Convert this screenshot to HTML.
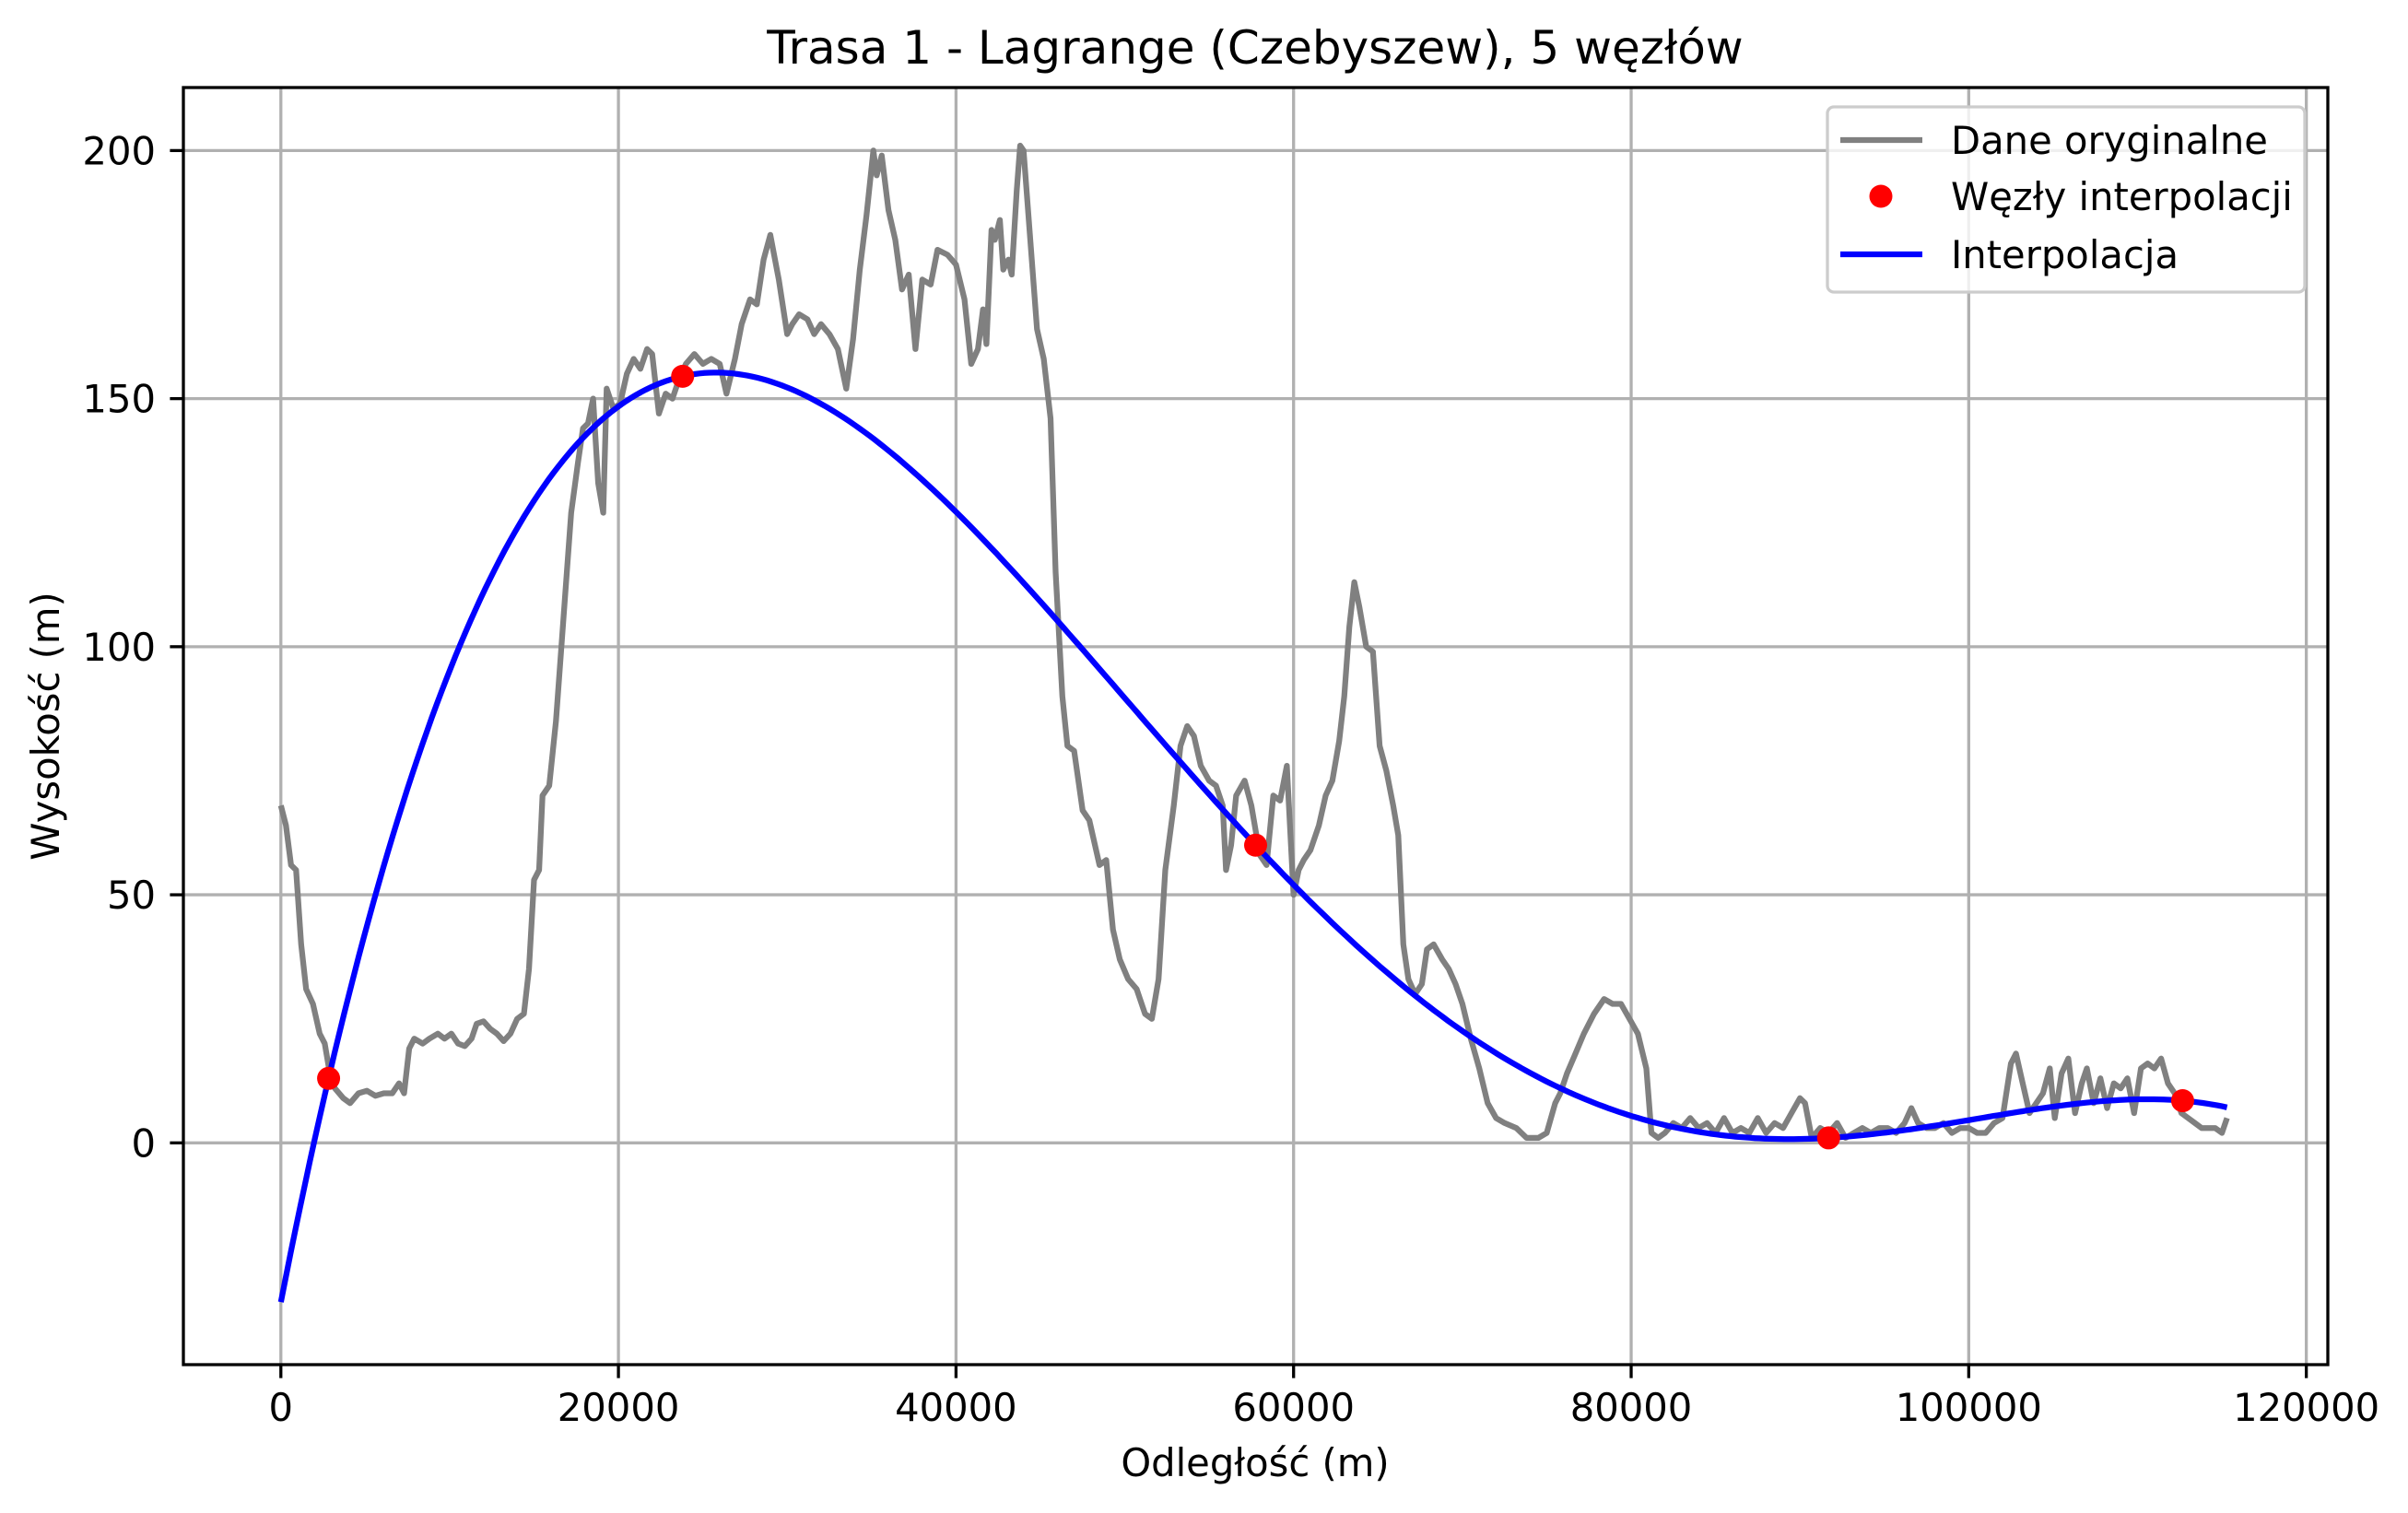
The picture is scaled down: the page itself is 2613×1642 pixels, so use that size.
<!DOCTYPE html>
<html><head><meta charset="utf-8"><style>
body{margin:0;background:#fff}
svg{display:block;font-family:"DejaVu Sans","Liberation Sans",sans-serif}
</style></head><body>
<svg id="chart" width="2613" height="1642" viewBox="0 0 2613 1642" xmlns="http://www.w3.org/2000/svg">
<rect width="2613" height="1642" fill="#fff"/>
<text x="1362" y="69" font-size="50" text-anchor="middle">Trasa 1 - Lagrange (Czebyszew), 5 węzłów</text>
<g id="grid"></g>
<g id="ticks"></g>
<g id="series"></g>
<rect x="199" y="95" width="2327" height="1386" fill="none" stroke="#000" stroke-width="3.3"/>
<text x="1362" y="1602" font-size="41.7" text-anchor="middle">Odległość (m)</text>
<text x="64" y="788" font-size="41.7" text-anchor="middle" transform="rotate(-90 64 788)">Wysokość (m)</text>
<g>
<rect x="1983" y="116" width="518" height="201" rx="7" fill="#fff" fill-opacity="0.8" stroke="#ccc" stroke-width="3.3"/>
<line x1="1997" y1="152" x2="2086" y2="152" stroke="#808080" stroke-width="6.25"/>
<text x="2117" y="167" font-size="41.7">Dane oryginalne</text>
<circle cx="2041" cy="213" r="12.5" fill="#ff0000"/>
<text x="2117" y="228" font-size="41.7">Węzły interpolacji</text>
<line x1="1997" y1="276" x2="2086" y2="276" stroke="#0000ff" stroke-width="6.25"/>
<text x="2117" y="291" font-size="41.7">Interpolacja</text>
</g>
</svg>
<script>
const profileKm=[0,0.3,0.6,0.9,1.2,1.5,1.9,2.3,2.6,2.9,3.2,3.7,4.1,4.6,5.1,5.6,6.1,6.6,7.0,7.3,7.6,7.9,8.4,8.8,9.3,9.7,10.1,10.5,10.9,11.3,11.6,12.0,12.4,12.8,13.2,13.6,14.0,14.4,14.7,15.0,15.3,15.5,15.9,16.3,16.6,16.9,17.2,17.6,17.9,18.2,18.5,18.8,19.1,19.3,19.7,20.1,20.5,20.9,21.3,21.7,22.0,22.4,22.8,23.2,23.6,24.0,24.5,25.0,25.5,26.0,26.4,26.9,27.3,27.8,28.2,28.6,29.0,29.5,30.0,30.3,30.7,31.2,31.6,32.0,32.5,33.0,33.5,33.9,34.3,34.7,35.1,35.3,35.6,36.0,36.4,36.8,37.2,37.6,38.0,38.5,38.9,39.5,40.0,40.5,40.9,41.3,41.6,41.8,42.1,42.3,42.6,42.8,43.1,43.3,43.6,43.8,44.0,44.4,44.8,45.2,45.6,45.9,46.3,46.6,47.0,47.5,47.9,48.5,48.9,49.3,49.7,50.2,50.7,51.2,51.6,52.0,52.4,52.9,53.3,53.7,54.1,54.5,55.0,55.4,55.8,56.0,56.3,56.6,57.1,57.5,58.0,58.4,58.8,59.2,59.6,60.0,60.3,60.6,61.0,61.5,61.9,62.3,62.7,63.0,63.3,63.6,63.9,64.3,64.7,65.1,65.5,65.9,66.2,66.5,66.8,67.2,67.6,67.9,68.3,68.8,69.2,69.6,70.0,70.5,71.0,71.5,72.0,72.5,73.2,73.8,74.5,75.0,75.5,75.8,76.2,76.7,77.2,77.8,78.4,78.9,79.4,79.9,80.4,80.9,81.2,81.6,82.0,82.5,83.0,83.5,84.0,84.5,85.0,85.5,86.0,86.5,87.0,87.5,88.0,88.5,89.0,89.5,90.0,90.3,90.7,91.2,91.7,92.2,92.7,93.2,93.7,94.2,94.7,95.2,95.7,96.2,96.6,97.0,97.5,98.0,98.5,99.0,99.5,100.0,100.5,101.0,101.5,102.0,102.5,102.8,103.2,103.6,104.0,104.4,104.8,105.1,105.5,105.9,106.3,106.7,107.0,107.4,107.8,108.2,108.6,109.0,109.4,109.8,110.2,110.6,111.0,111.4,111.8,112.2,112.6,113.0,113.4,113.8,114.2,114.6,115.0,115.3];
const profileElev=[68,64,56,55,40,31,28,22,20,14,11,9,8,10,10.5,9.5,10,10,12,10,19,21,20,21,22,21,22,20,19.5,21,24,24.5,23,22,20.5,22,25,26,35,53,55,70,72,85,99,113,127,137,144,145,150,133,127,152,148,149,155,158,156,160,159,147,151,150,154,157,159,157,158,157,151,158,165,170,169,178,183,174,163,165,167,166,163,165,163,160,152,162,176,187,200,195,199,188,182,172,175,160,174,173,180,179,177,170,157,160,168,161,184,182,186,176,178,175,192,201,200,182,164,158,146,115,90,80,79,67,65,56,57,43,37,33,31,26,25,33,55,68,80,84,82,76,73,72,68,55,60,70,73,68,58,56,70,69,76,50,55,57,59,64,70,73,81,90,104,113,108,100,99,80,75,68,62,40,33,30,32,39,40,37,35,32,28,21,15,8,5,4,3,1,1,2,8,10,14,18,22,26,29,28,28,25,22,15,2,1,2,4,3,5,3,4,2,5,2,3,2,5,2,4,3,6,9,8,1,3,2,4,1,2,3,2,3,3,2,4,7,4,3,3,4,2,3,3,2,2,4,5,16,18,12,6,8,10,15,5,14,17,6,12,15,8,13,7,12,11,13,6,15,16,15,17,12,10,6,5,4,3,3,3,2,5];
const nodeX=[2828,23803,57750,91697,112672];
const nodeY=[13,154.5,60,1,8.5];
const xTicks=[0,20000,40000,60000,80000,100000,120000];
const yTicks=[0,50,100,150,200];
const xMin=-5775,xMax=121275,yMin=-44.7,yMax=212.7;
const L=199,R=2526,T=95,B=1481;
const sx=v=>L+(v-xMin)/(xMax-xMin)*(R-L);
const sy=v=>B-(v-yMin)/(yMax-yMin)*(B-T);
const NS='http://www.w3.org/2000/svg';
function mk(tag,attrs,parent){const e=document.createElementNS(NS,tag);for(const k in attrs)e.setAttribute(k,attrs[k]);parent.appendChild(e);return e;}
const grid=document.getElementById('grid'),ticks=document.getElementById('ticks'),series=document.getElementById('series');
xTicks.forEach(t=>{const x=sx(t);
 const g=mk('line',{x1:x,x2:x,y1:T,y2:B,stroke:'#b0b0b0','stroke-width':3.3},grid);
 
 
 const tk=mk('line',{x1:x,x2:x,y1:B,y2:B+14.6,stroke:'#000','stroke-width':3.3},ticks);
 
 
 const tx=mk('text',{x:x,y:B+61,'font-size':41.7,'text-anchor':'middle'},ticks);tx.textContent=t;
 
 
});
yTicks.forEach(t=>{const y=sy(t);
 const g=mk('line',{x1:L,x2:R,y1:y,y2:y,stroke:'#b0b0b0','stroke-width':3.3},grid);
 
 
 const tk=mk('line',{x1:L-14.6,x2:L,y1:y,y2:y,stroke:'#000','stroke-width':3.3},ticks);
 
 
 const tx=mk('text',{x:L-30,y:y+15,'font-size':41.7,'text-anchor':'end'},ticks);tx.textContent=t;
 
 
});
let d='';profileKm.forEach((k,i)=>{d+=(i?'L':'M')+sx(k*1000).toFixed(1)+' '+sy(profileElev[i]).toFixed(1);});
const p=mk('path',{d:d,fill:'none',stroke:'#808080','stroke-width':6.25,'stroke-linejoin':'round'},series);


function lag(x){let s=0;for(let i=0;i<nodeX.length;i++){let w=1;for(let j=0;j<nodeX.length;j++)if(j!==i)w*=(x-nodeX[j])/(nodeX[i]-nodeX[j]);s+=w*nodeY[i];}return s;}
const xEnd=profileKm[profileKm.length-1]*1000;
let d2='';for(let i=0;i<=400;i++){const x=xEnd*i/400;d2+=(i?'L':'M')+sx(x).toFixed(1)+' '+sy(lag(x)).toFixed(1);}
const ip=mk('path',{d:d2,fill:'none',stroke:'#0000ff','stroke-width':6.25},series);


nodeX.forEach((x,i)=>{const c=mk('circle',{cx:sx(x),cy:sy(nodeY[i]),r:12.5,fill:'#ff0000'},series);
 
 
});
</script>
</body></html>
